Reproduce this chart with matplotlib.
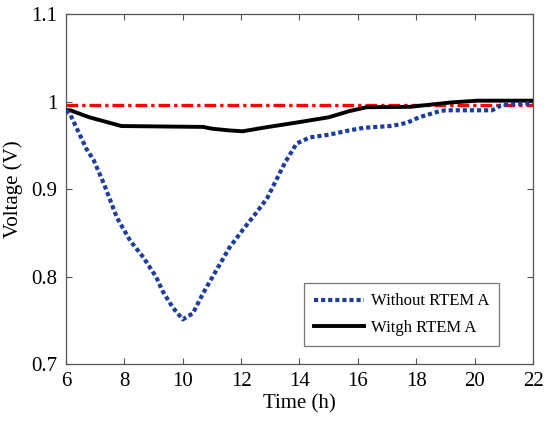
import matplotlib
matplotlib.use("Agg")
import matplotlib.pyplot as plt

plt.rcParams['font.family'] = ['Liberation Serif', 'DejaVu Serif']

# Without RTEMA (blue dotted)
t_without = [6, 6.15, 6.7, 6.95, 7.3, 7.75, 8.2, 8.65, 9.1, 9.3, 9.65, 10.0, 10.35, 10.7,
             11.15, 11.6, 12.05, 12.5, 12.9, 13.2, 13.5, 13.9, 14.35, 15.0, 15.7, 16.2,
             17.1, 17.45, 17.7, 18.1, 18.8, 19.0, 20.6, 20.9, 21.2, 22]
v_without = [0.99, 0.985, 0.946, 0.933, 0.906, 0.867, 0.841, 0.822, 0.799, 0.784, 0.765, 0.751,
             0.758, 0.781, 0.807, 0.833, 0.853, 0.872, 0.89, 0.91, 0.93, 0.952, 0.959, 0.962,
             0.967, 0.970, 0.972, 0.974, 0.976, 0.982, 0.989, 0.990, 0.990, 0.9955, 0.997, 0.998]

# With RTEMA (black solid)
t_with = [6, 6.15, 6.8, 7.9, 10.7, 11.0, 11.6, 12.05, 12.75, 13.9, 15.0, 15.7, 16.3, 17.8,
          19.2, 20.1, 22]
v_with = [0.99, 0.99, 0.982, 0.972, 0.971, 0.969, 0.967, 0.966, 0.970, 0.976, 0.982, 0.989,
          0.9935, 0.994, 0.999, 1.001, 1.001]

# reference level (red dash-dot)
t_ref = [6, 22]
v_ref = [0.996, 0.996]

xticks = [6, 8, 10, 12, 14, 16, 18, 20, 22]
yticks = [0.7, 0.8, 0.9, 1.0, 1.1]
ylabels = ['0.7', '0.8', '0.9', '1', '1.1']

fig = plt.figure(figsize=(5.45, 4.26), dpi=100)
ax = fig.add_axes([0.121, 0.1455, 0.857, 0.8215])

ax.plot(t_ref, v_ref, color='red', lw=2.4, dashes=(3.5, 1.2, 1.0, 1.2), zorder=2)
ax.plot(t_with, v_with, color='black', lw=2.8, label='Witgh RTEM A', zorder=3)
ax.plot(t_without, v_without, color='#1c3da0', lw=3, dashes=(1.0, 0.7),
        label='Without RTEM A', zorder=4)

ax.set_xlim(6, 22)
ax.set_ylim(0.7, 1.1)
ax.set_xticks(xticks)
ax.set_yticks(yticks)
ax.set_yticklabels(ylabels)
ax.tick_params(direction='in', top=True, right=True, labelsize=15, length=4,
               color='#555555', pad=6)
for s in ax.spines.values():
    s.set_color('#555555')
    s.set_linewidth(0.9)

ax.set_xlabel('Time (h)', fontsize=15, labelpad=2)
ax.set_ylabel('Voltage (V)', fontsize=15, labelpad=6)

h, l = ax.get_legend_handles_labels()
leg = ax.legend(h[::-1], l[::-1], loc='lower right', bbox_to_anchor=(0.927, 0.051),
                borderaxespad=0, fontsize=12, fancybox=False, edgecolor='#555555',
                handlelength=3.0, borderpad=0.6, labelspacing=0.65, handletextpad=0.4)
leg.get_frame().set_linewidth(0.9)

fig.savefig('out.png', dpi=100)
